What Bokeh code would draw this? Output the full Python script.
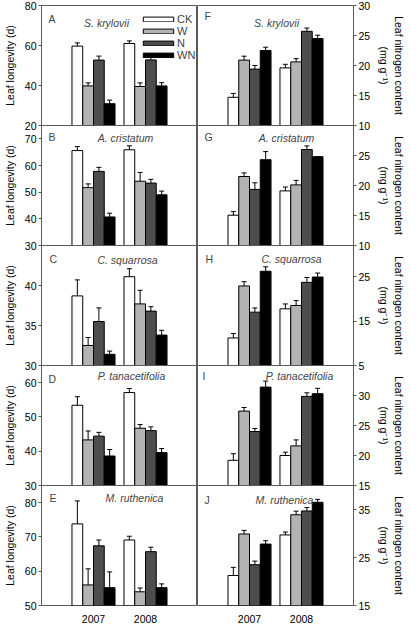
from bokeh.plotting import figure
from bokeh.layouts import column, row
from bokeh.models import (Range1d, FixedTicker, ColumnDataSource, Whisker, TeeHead,
                          Label, Legend, LegendItem)
from bokeh.transform import dodge
from bokeh.embed import file_html
from bokeh.resources import INLINE

# ---------------- data ----------------
years = [2007, 2008]
treatments = ["CK", "W", "N", "WN"]
species = ["S. krylovii", "A. cristatum", "C. squarrosa", "P. tanacetifolia", "M. ruthenica"]
letters_longevity = ["A", "B", "C", "D", "E"]
letters_nitrogen = ["F", "G", "H", "I", "J"]

# Leaf longevity (d); one [2007, 2008] pair per species
longevity_CK = [[59.7, 61.0], [65.6, 65.9], [38.7, 41.1], [53.4, 57.1], [73.8, 69.1]]
longevity_W = [[39.8, 39.5], [51.7, 54.1], [32.5, 37.7], [43.3, 46.7], [56.0, 54.0]]
longevity_N = [[52.7, 52.8], [57.8, 53.4], [35.5, 36.8], [44.4, 46.0], [67.4, 65.7]]
longevity_WN = [[30.9, 39.8], [40.7, 49.0], [31.4, 33.8], [38.6, 39.6], [55.2, 55.2]]
longevity_CK_se = [[1.6, 1.3], [1.5, 1.5], [2.0, 1.0], [2.5, 1.2], [6.7, 1.1]]
longevity_W_se = [[1.5, 1.8], [1.4, 3.3], [1.0, 1.7], [2.6, 1.1], [4.7, 1.1]]
longevity_N_se = [[2.0, 1.6], [1.5, 1.4], [1.7, 0.55], [1.1, 1.1], [1.7, 1.3]]
longevity_WN_se = [[1.8, 1.6], [1.4, 1.4], [0.4, 0.6], [1.9, 1.2], [4.6, 1.1]]

# Leaf nitrogen content (mg g-1)
nitrogen_CK = [[14.7, 19.6], [15.05, 19.1], [11.2, 17.75], [19.2, 20.0], [21.25, 29.7]]
nitrogen_W = [[20.9, 20.6], [21.5, 20.1], [22.9, 18.5], [27.4, 21.6], [29.9, 33.9]]
nitrogen_N = [[19.4, 25.7], [19.35, 26.0], [17.0, 23.7], [24.0, 29.85], [23.5, 34.7]]
nitrogen_WN = [[22.5, 24.5], [24.3, 24.8], [26.2, 24.9], [31.4, 30.3], [27.8, 36.5]]
nitrogen_CK_se = [[0.65, 0.6], [0.6, 0.65], [1.0, 1.1], [1.1, 0.55], [1.7, 0.6]]
nitrogen_W_se = [[0.65, 0.55], [0.6, 0.75], [0.95, 1.1], [0.6, 1.0], [0.75, 0.75]]
nitrogen_N_se = [[0.6, 0.55], [1.1, 0.6], [0.95, 1.1], [0.5, 0.6], [0.75, 0.7]]
nitrogen_WN_se = [[0.55, 0.55], [1.35, 0.0], [1.0, 0.9], [1.0, 0.9], [0.7, 0.6]]

# axis limits and tick labels of each panel
longevity_limits = [(20, 80), (30, 75), (30, 45), (30, 65), (50, 85)]
nitrogen_limits = [(10, 30), (10, 30), (5, 32), (15, 35), (15, 40)]
longevity_ticks = [[20, 40, 60, 80], [30, 40, 50, 60, 70], [30, 35, 40], [30, 40, 50, 60], [50, 60, 70, 80]]
nitrogen_ticks = [[10, 15, 20, 25, 30], [10, 15, 20, 25], [5, 15, 25], [15, 20, 25, 30], [15, 25, 35]]

# ---------------- styles ----------------
FONT = "Liberation Sans"
FS = "10.5px"
fills = ["#ffffff", "#b3b3b3", "#4d4d4d", "#000000"]
FRAME = "#5a5a5a"
BAR_W = 0.207
offsets = [-1.5 * BAR_W, -0.5 * BAR_W, 0.5 * BAR_W, 1.5 * BAR_W]
FRAME_W, FRAME_H = 156, 120
OVERLAP = 7
letter_pos = [[(7, 13), (7, 11), (8, 13), (7, 13), (8, 12.5)],
              [(7, 10), (7, 11), (8, 13), (5, 10.5), (7, 14.5)]]
species_pos = [[(65, 17.5), (84, 12.5), (86, 14), (90, 10), (93, 12.5)],
               [(79, 17.5), (89, 12.5), (94, 13), (102, 10), (87, 14)]]

column_data = [
    dict(limits=longevity_limits, ticks=longevity_ticks, letters=letters_longevity,
         label="Leaf longevity (d)",
         means=[longevity_CK, longevity_W, longevity_N, longevity_WN],
         errs=[longevity_CK_se, longevity_W_se, longevity_N_se, longevity_WN_se]),
    dict(limits=nitrogen_limits, ticks=nitrogen_ticks, letters=letters_nitrogen,
         label="Leaf nitrogen content\n(mg g\u207b\u00b9)",
         means=[nitrogen_CK, nitrogen_W, nitrogen_N, nitrogen_WN],
         errs=[nitrogen_CK_se, nitrogen_W_se, nitrogen_N_se, nitrogen_WN_se]),
]


def make_panel(c, r):
    d = column_data[c]
    lo, hi = d["limits"][r]
    left = c == 0
    p = figure(frame_width=FRAME_W, frame_height=FRAME_H,
               x_range=Range1d(2006, 2009), y_range=Range1d(lo, hi),
               min_border_left=36 if left else 0, min_border_right=0 if left else 52,
               min_border_top=5 if r == 0 else 0, min_border_bottom=15 if r == 4 else OVERLAP,
               x_axis_location="below" if r == 4 else None,
               y_axis_location="left" if left else "right",
               toolbar_location=None, output_backend="svg",
               margin=(0, 0, 0, 0) if r == 0 else (-OVERLAP, 0, 0, 0))
    p.background_fill_alpha = 0
    p.border_fill_alpha = 0
    p.outline_line_color = FRAME
    p.grid.visible = False

    ya = p.yaxis[0]
    ya.ticker = FixedTicker(ticks=d["ticks"][r])
    ya.axis_line_color = FRAME
    ya.major_tick_line_color = FRAME
    ya.minor_tick_line_color = None
    ya.major_tick_out = 3
    ya.major_tick_in = 0
    ya.major_label_standoff = 2
    ya.major_label_text_font = FONT
    ya.major_label_text_font_size = FS
    ya.major_label_text_color = "black"
    ya.axis_label = d["label"]
    ya.axis_label_standoff = 6 if left else 5
    ya.axis_label_text_font = FONT
    ya.axis_label_text_font_size = FS
    ya.axis_label_text_font_style = "normal"
    ya.axis_label_text_color = "black"

    if r == 4:
        xa = p.xaxis[0]
        xa.ticker = FixedTicker(ticks=years)
        xa.axis_line_color = None
        xa.major_tick_line_color = None
        xa.minor_tick_line_color = None
        xa.major_label_standoff = 3
        xa.major_label_text_font = FONT
        xa.major_label_text_font_size = FS
        xa.major_label_text_color = "black"

    rends = []
    for k in range(4):
        m = d["means"][k][r]
        e = d["errs"][k][r]
        src = ColumnDataSource(dict(year=years, mean=m, upper=[a + b for a, b in zip(m, e)]))
        rr = p.vbar(x=dodge("year", offsets[k]), top="mean", bottom=lo, width=BAR_W, source=src,
                    fill_color=fills[k], line_color="black", line_width=1)
        rends.append(rr)
        p.add_layout(Whisker(base=dodge("year", offsets[k]), lower="mean", upper="upper", source=src,
                             dimension="height", line_color="black", line_width=1,
                             upper_head=TeeHead(size=5, line_color="black", line_width=1),
                             lower_head=None, level="glyph"))

    lx, ly = letter_pos[c][r]
    p.add_layout(Label(x=2006, y=hi, x_offset=lx, y_offset=-ly, text=d["letters"][r],
                       text_font=FONT, text_font_size=FS, text_baseline="middle", text_align="left"))
    sx, sy = species_pos[c][r]
    p.add_layout(Label(x=2006, y=hi, x_offset=sx, y_offset=-sy, text=species[r],
                       text_font=FONT, text_font_style="italic", text_font_size=FS,
                       text_baseline="middle", text_align="center"))

    if c == 0 and r == 0:
        legend = Legend(items=[LegendItem(label=t, renderers=[x]) for t, x in zip(treatments, rends)],
                        location=(98, 64), orientation="vertical",
                        glyph_width=38, glyph_height=6, label_height=12,
                        spacing=0, padding=0, margin=0, label_standoff=0,
                        border_line_color=None, background_fill_alpha=0,
                        label_text_font=FONT, label_text_font_size="11px",
                        label_text_line_height=1.0)
        p.add_layout(legend)
    return p


left_col = column([make_panel(0, r) for r in range(5)], spacing=0)
right_col = column([make_panel(1, r) for r in range(5)], spacing=0)
layout = row([left_col, right_col], spacing=0)

open("out.html", "w").write(file_html(layout, INLINE))
